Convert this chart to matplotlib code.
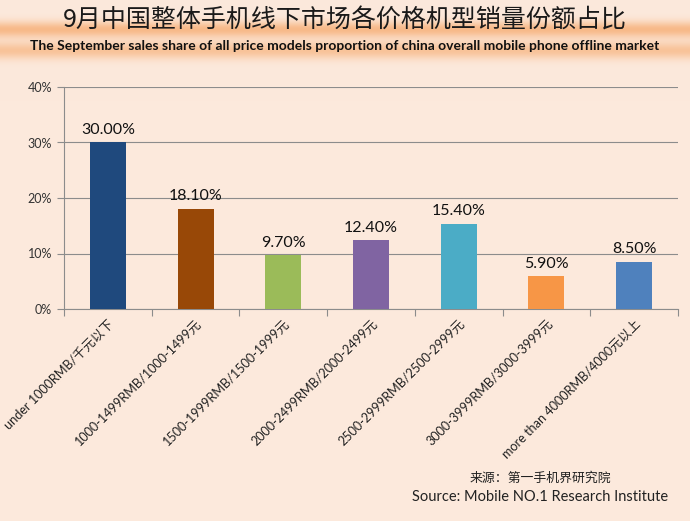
import matplotlib
matplotlib.use("Agg")
import matplotlib.pyplot as plt
import numpy as np

categories = [
    "under 1000RMB/千元以下",
    "1000-1499RMB/1000-1499元",
    "1500-1999RMB/1500-1999元",
    "2000-2499RMB/2000-2499元",
    "2500-2999RMB/2500-2999元",
    "3000-3999RMB/3000-3999元",
    "more than 4000RMB/4000元以上",
]
shares = [30.00, 18.10, 9.70, 12.40, 15.40, 5.90, 8.50]
bar_colors = ["#1f497d", "#984807", "#9bbb59", "#8064a2", "#4bacc6", "#f79646", "#4f81bd"]
yticks = [0, 10, 20, 30, 40]

title_cn = "9月中国整体手机线下市场各价格机型销量份额占比"
title_en = "The September sales share of all price models proportion of china overall mobile phone offline market"
source_cn = "来源：第一手机界研究院"
source_en = "Source: Mobile NO.1 Research Institute"

FAM = ["Lato", "Noto Sans CJK SC", "DejaVu Sans"]
plt.rcParams['font.family'] = FAM

bg = "#fce9dc"
fig = plt.figure(figsize=(6.9, 5.21), dpi=100, facecolor=bg)

# title band gradient
bax = fig.add_axes([0, 0, 1, 1], zorder=-10)
bax.set_axis_off()
H = 521
y = np.arange(H)
prof = 0.75 * np.exp(-((y - 29) / 8.0) ** 2) + 0.6 * np.exp(-((y - 50) / 8.5) ** 2)
prof = np.clip(prof, 0, 1)
base = np.array([252, 233, 220]) / 255.0
orange = np.array([246, 170, 110]) / 255.0
img = base[None, :] * (1 - prof[:, None]) + orange[None, :] * prof[:, None]
img = np.repeat(img[:, None, :], 10, axis=1)
bax.imshow(img, aspect="auto", extent=[0, 1, 0, 1], origin="upper")
bax.set_xlim(0, 1); bax.set_ylim(0, 1)

fig.text(0.5, 1 - 21 / H, title_cn, ha="center", va="center", fontsize=18,
         color="#1a1a1a", fontweight="light", family=["Noto Sans CJK SC", "DejaVu Sans"])
fig.text(0.5, 1 - 46 / H, title_en, ha="center", va="center", fontsize=10,
         color="#111111", fontweight="bold", family=FAM)

ax = fig.add_axes([64 / 690, 1 - 309 / H, (678 - 64) / 690, (309 - 87) / H])
ax.set_facecolor("none")
x = np.arange(len(categories))
ax.bar(x, shares, width=0.41, color=bar_colors, zorder=3)
for xi, v in zip(x, shares):
    ax.text(xi, v + 1.0, f"{v:.2f}%", ha="center", va="bottom", fontsize=11.5,
            color="#111111", family=FAM)

ax.set_ylim(0, 40)
ax.set_xlim(-0.5, len(categories) - 0.5)
ax.set_yticks(yticks)
ax.set_yticklabels([f"{t}%" for t in yticks], fontsize=9, color="#333333")
ax.yaxis.grid(True, color="#8c8c8c", linewidth=0.8, zorder=0)
ax.set_axisbelow(True)
for s in ["top", "right"]:
    ax.spines[s].set_visible(False)
ax.spines["left"].set_color("#8c8c8c")
ax.spines["bottom"].set_color("#8c8c8c")
ax.tick_params(axis="y", length=5, color="#8c8c8c", direction="out")

ax.set_xticks(np.arange(len(categories) + 1) - 0.5, minor=False)
ax.set_xticklabels([])
ax.tick_params(axis="x", length=5, color="#8c8c8c", direction="out")
ax.set_xticks(x, minor=True)
ax.set_xticklabels(categories, minor=True, rotation=45, ha="right",
                   rotation_mode="anchor", fontsize=9.1, color="#222222")
ax.tick_params(axis="x", which="minor", length=0, pad=6)
for lbl in ax.get_xticklabels(minor=True):
    lbl.set_family(FAM)

fig.text(470 / 690, 1 - 478 / H, source_cn, ha="left", va="center", fontsize=9.3,
         color="#222222", family=["Noto Sans CJK SC", "DejaVu Sans"])
fig.text(668 / 690, 1 - 497 / H, source_en, ha="right", va="center", fontsize=10.5,
         color="#222222", family=FAM)

fig.savefig("out.png", dpi=100, facecolor=bg)
